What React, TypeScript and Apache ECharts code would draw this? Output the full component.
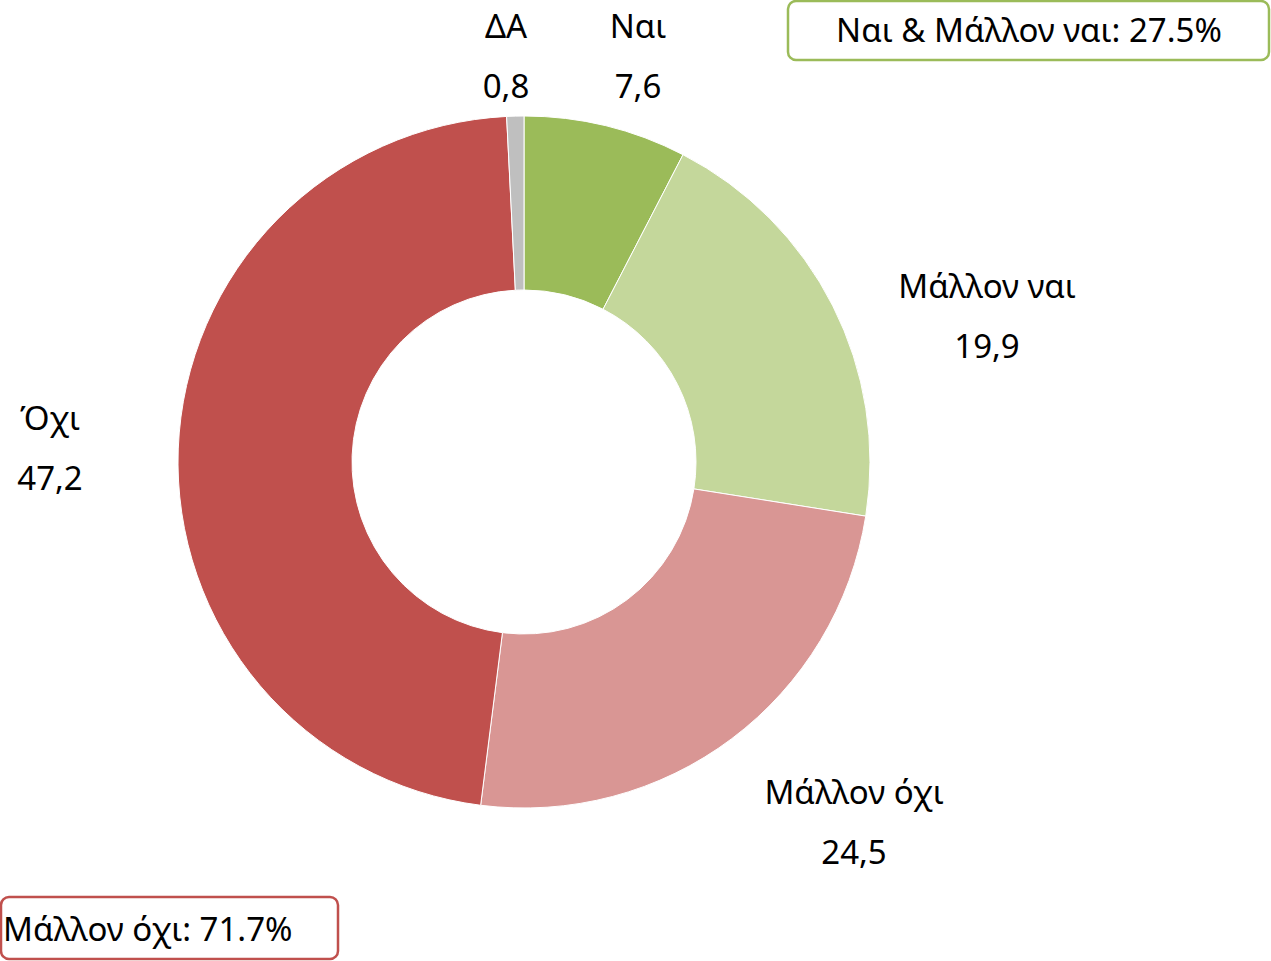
import React, { useEffect, useRef } from "react";
import * as echarts from "echarts";

const categories = ["Ναι", "Μάλλον ναι", "Μάλλον όχι", "Όχι", "ΔΑ"];
const values = [7.6, 19.9, 24.5, 47.2, 0.8];
const colors = ["#9BBB59", "#C4D79B", "#D99694", "#C0504D", "#BFBFBF"];
const yesTotalText = "Ναι & Μάλλον ναι: 27.5%";
const noTotalText = "Μάλλον όχι: 71.7%";

// label anchor positions (pixels)
const labelPos: [number, number][] = [
  [638, 55],
  [987, 315],
  [854, 821],
  [50, 447],
  [506, 55],
];

const FONT = "'Noto Sans', 'Open Sans', sans-serif";
const FS = 33;

export default function App() {
  const ref = useRef<HTMLDivElement>(null);
  useEffect(() => {
    if (!ref.current) return;
    const chart = echarts.init(ref.current, null, { renderer: "svg" });
    chart.setOption({
      animation: false,
      backgroundColor: "#ffffff",
      textStyle: { fontFamily: FONT },
      series: [
        {
          type: "pie",
          center: [524, 462],
          radius: [172, 346],
          startAngle: 90,
          clockwise: true,
          avoidLabelOverlap: false,
          itemStyle: { borderColor: "#ffffff", borderWidth: 1 },
          emphasis: { disabled: true },
          labelLine: { show: false },
          label: {
            show: true,
            position: "outside",
            formatter: (p: any) =>
              `{n|${p.name}}\n{v|${Number(p.value).toFixed(1).replace(".", ",")}}`,
            rich: {
              n: { fontSize: FS, lineHeight: 60, color: "#000", fontFamily: FONT, align: "center" },
              v: { fontSize: FS, lineHeight: 60, color: "#000", fontFamily: FONT, align: "center" },
            },
          },
          labelLayout: (params: any) => {
            const pos = labelPos[params.dataIndex];
            return { x: pos[0], y: pos[1], align: "center", verticalAlign: "middle", hideOverlap: false };
          },
          data: categories.map((c, i) => ({
            name: c,
            value: values[i],
            itemStyle: { color: colors[i] },
          })),
        },
      ],
      graphic: [
        {
          type: "rect",
          shape: { x: 788, y: 1, width: 481, height: 59, r: 8 },
          style: { fill: "#ffffff", stroke: "#9BBB59", lineWidth: 2.5 },
        },
        {
          type: "text",
          x: 1029,
          y: 29,
          style: {
            text: yesTotalText,
            fontSize: FS,
            fontFamily: FONT,
            fill: "#000",
            align: "center",
            verticalAlign: "middle",
          },
        },
        {
          type: "rect",
          shape: { x: 1, y: 897, width: 337, height: 62, r: 8 },
          style: { fill: "#ffffff", stroke: "#C0504D", lineWidth: 2.5 },
        },
        {
          type: "text",
          x: 3,
          y: 928,
          style: {
            text: noTotalText,
            fontSize: FS,
            fontFamily: FONT,
            fill: "#000",
            align: "left",
            verticalAlign: "middle",
          },
        },
      ],
    });
    return () => chart.dispose();
  }, []);
  return (
    <div
      ref={ref}
      style={{ position: "fixed", left: 0, top: 0, width: 1271, height: 961 }}
    />
  );
}
